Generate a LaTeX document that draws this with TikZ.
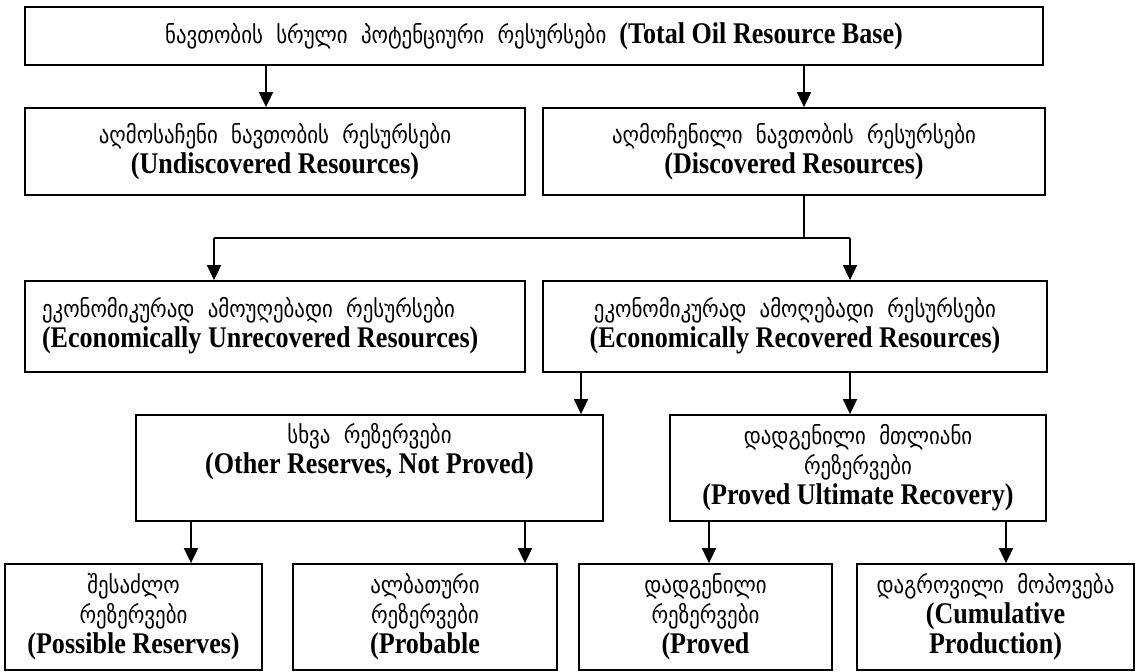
\documentclass[tikz,border=0pt]{standalone}
\usepackage{fontspec}
\setmainfont{Liberation Serif}[FakeStretch=0.87]
\newfontfamily\geo{DejaVu Sans}[FakeStretch=0.87]
\usetikzlibrary{arrows.meta}
% Georgian text in a lighter face than the bold English glosses
\newcommand\ka[1]{{\geo\mdseries\fontsize{24}{30}\selectfont #1}}
\begin{document}
\begin{tikzpicture}[x=1pt,y=-1pt,
  box/.style={draw, line width=1.8pt, inner sep=0pt, align=center,
    font=\bfseries\fontsize{30}{30}\selectfont},
  arr/.style={line width=1.8pt, -{Triangle[width=14pt,length=15pt]}},
  link/.style={line width=1.2pt}]
\useasboundingbox (0,0) rectangle (1136,672);

% level 1
\node[box, minimum width=1018pt, minimum height=58pt] (top) at (534,36)
  {\ka{ნავთობის\ \ სრული\ \ პოტენციური\ \ რესურსები}\ \ (Total Oil Resource Base)};

% level 2
\node[box, minimum width=500pt, minimum height=87pt] (und) at (275,151.5)
  {\ka{აღმოსაჩენი\ \ ნავთობის\ \ რესურსები}\\(Undiscovered Resources)};
\node[box, minimum width=502pt, minimum height=87pt] (disc) at (794,151.5)
  {\ka{აღმოჩენილი\ \ ნავთობის\ \ რესურსები}\\(Discovered Resources)};

% level 3
\node[box, align=flush left, text width=466pt, inner xsep=17pt, minimum height=91pt] (ecu) at (275,326.5)
  {\ka{ეკონომიკურად\ \ ამოუღებადი\ \ რესურსები}\\(Economically Unrecovered Resources)\\[-22pt]\mbox{}};
\node[box, minimum width=504pt, minimum height=91pt] (ecr) at (795,326.5)
  {\ka{ეკონომიკურად\ \ ამოღებადი\ \ რესურსები}\\(Economically Recovered Resources)\\[-22pt]\mbox{}};

% level 4
\node[box, minimum width=467pt, minimum height=106pt] (oth) at (369.5,468)
  {\ka{სხვა\ \ რეზერვები}\\(Other Reserves, Not Proved)\\\strut};
\node[box, minimum width=376pt, minimum height=106pt] (pur) at (858,468)
  {\ka{დადგენილი\ \ მთლიანი}\\\ka{რეზერვები}\\(Proved Ultimate Recovery)};

% level 5
\node[box, minimum width=257pt, minimum height=106pt] (pos) at (133.5,617)
  {\ka{შესაძლო}\\\ka{რეზერვები}\\(Possible Reserves)};
\node[box, minimum width=264pt, minimum height=106pt] (prb) at (425,617)
  {\ka{ალბათური}\\\ka{რეზერვები}\\(Probable};
\node[box, minimum width=253pt, minimum height=106pt] (prv) at (705.5,617)
  {\ka{დადგენილი}\\\ka{რეზერვები}\\(Proved};
\node[box, minimum width=277pt, minimum height=106pt] (cum) at (995.5,617)
  {\ka{დაგროვილი\ \ მოპოვება}\\(Cumulative\\Production)};

% connector columns
\coordinate (c1) at (266,0);
\coordinate (c2) at (804,0);
\coordinate (b0) at (804,238);
\coordinate (b1) at (214,238);
\coordinate (b2) at (850,238);
\coordinate (c3) at (581,0);
\coordinate (c4) at (850,0);
\coordinate (c5) at (191,0);
\coordinate (c6) at (525,0);
\coordinate (c7) at (709,0);
\coordinate (c8) at (1006,0);

\draw[arr] (top.south -| c1) -- (und.north -| c1);
\draw[arr] (top.south -| c2) -- (disc.north -| c2);

\draw[link] (disc.south -| b0) -- (b0);
\draw[link] (b1) -- (b2);
\draw[arr] (b1) -- (ecu.north -| b1);
\draw[arr] (b2) -- (ecr.north -| b2);

\draw[arr] (ecr.south -| c3) -- (oth.north -| c3);
\draw[arr] (ecr.south -| c4) -- (pur.north -| c4);

\draw[arr] (oth.south -| c5) -- (pos.north -| c5);
\draw[arr] (oth.south -| c6) -- (prb.north -| c6);
\draw[arr] (pur.south -| c7) -- (prv.north -| c7);
\draw[arr] (pur.south -| c8) -- (cum.north -| c8);
\end{tikzpicture}
\end{document}
